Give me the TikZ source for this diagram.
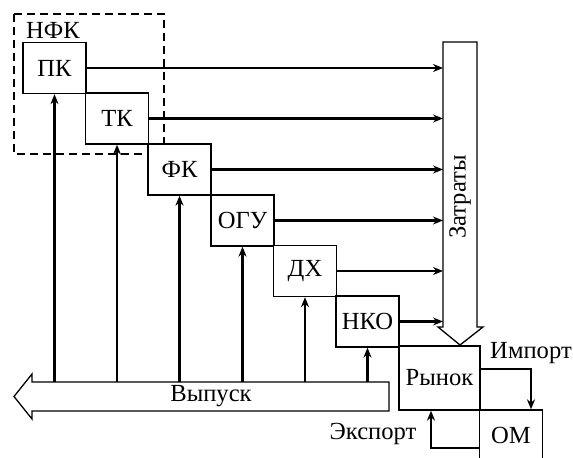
\documentclass[tikz,border=0pt]{standalone}
\usepackage{fontspec}
\setmainfont{Liberation Serif}
\usetikzlibrary{arrows.meta}
\tikzset{
    blok/.style={draw, fill=white, line width=0.65pt, minimum width=31.5pt, minimum height=25.5pt, inner sep=0pt},
    potok/.style={draw, fill=white, line width=0.65pt, line join=miter},
    svyaz/.style={->, line width=1.4pt},
}
\begin{document}
\begin{tikzpicture}[x=0.5pt, y=-0.5pt, font=\fontsize{12.3}{14}\selectfont, >={Stealth[length=5pt,width=4pt]}]
    \useasboundingbox (0,0) rectangle (573,458);
    % NFK frame
    \draw[dash pattern=on 4pt off 2.5pt, line width=0.65pt] (14,14) rectangle (164,154);
    \node (nfk) at (53,30) {НФК};
    % Sector boxes
    \node[blok] (pk) at (54.5,68) {ПК};
    \node[blok] (tk) at (117,118.5) {ТК};
    \node[blok] (fk) at (179.5,169.5) {ФК};
    \node[blok] (ogu) at (242.5,220.5) {ОГУ};
    \node[blok] (dh) at (305,271) {ДХ};
    \node[blok] (nko) at (367.5,321.5) {НКО};
    \node[blok, minimum width=40.5pt, minimum height=32pt] (rynok) at (439.5,378) {Рынок};
    \node[blok] (om) at (511,435.5) {ОМ};
    % Zatraty
    \draw[potok] (443,42) -- (477,42) -- (477,327) -- (483,327) -- (460,345) -- (438,327) -- (443,327) -- cycle;
    \node[rotate=90] (zatr) at (460,197) {Затраты};
    \coordinate (zl) at (443,42);
    % Vypusk
    \draw[potok] (389,382) -- (32,382) -- (32,374) -- (14,396.5) -- (32,419) -- (32,411) -- (389,411) -- cycle;
    \node (vyp) at (211,396.5) {Выпуск};
    \coordinate (vt) at (32,382);
    % Right-hand Arrows
    \draw[svyaz] (pk.east) -- (pk.east -| zl);
    \draw[svyaz] (tk.east) -- (tk.east -| zl);
    \draw[svyaz] (fk.east) -- (fk.east -| zl);
    \draw[svyaz] (ogu.east) -- (ogu.east -| zl);
    \draw[svyaz] (dh.east) -- (dh.east -| zl);
    \draw[svyaz] (nko.east) -- (nko.east -| zl);
    % Upward Arrows
    \draw[svyaz] (pk.south |- vt) -- (pk.south);
    \draw[svyaz] (tk.south |- vt) -- (tk.south);
    \draw[svyaz] (fk.south |- vt) -- (fk.south);
    \draw[svyaz] (ogu.south |- vt) -- (ogu.south);
    \draw[svyaz] (dh.south |- vt) -- (dh.south);
    \draw[svyaz] (nko.south |- vt) -- (nko.south);
    % Import / Export
    \draw[svyaz] ([yshift=4.5pt]rynok.east) -| ([xshift=10pt]om.north);
    \node (imp) at (531,353.5) {Импорт};
    \draw[svyaz] ([yshift=-6.25pt]om.west) -| ([xshift=-4.25pt]rynok.south);
    \node (exp) at (373,434) {Экспорт};
\end{tikzpicture}
\end{document}
